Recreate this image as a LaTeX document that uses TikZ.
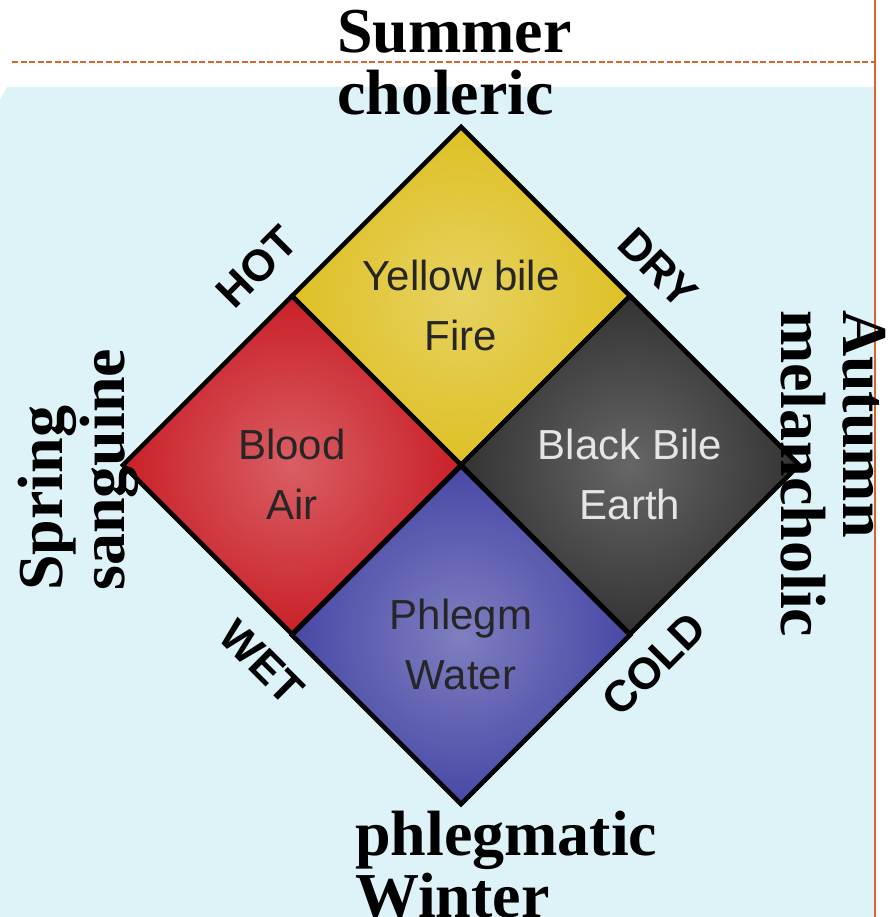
\documentclass[tikz,border=0pt]{standalone}
\usepackage{fontspec}
\setmainfont{Liberation Serif}
\newfontfamily\humsans{Liberation Sans}
\usepackage{xcolor}
\usepackage{tikz}
\usetikzlibrary{shapes.geometric,positioning}
\definecolor{sky}{HTML}{DDF3F8}
\definecolor{rust}{HTML}{D9652A}
\definecolor{bile}{HTML}{DEC024}
\definecolor{blood}{HTML}{CA2028}
\definecolor{earth}{HTML}{333333}
\definecolor{water}{HTML}{4848A6}

\begin{document}
\begin{tikzpicture}[x=1pt, y=-1pt,
  quad/.style={diamond, draw=black, line width=4.5pt, minimum width=340pt, minimum height=340pt, inner sep=0pt, align=center, text height=108pt, text depth=0pt, text=black!85, font=\humsans\fontsize{42}{60}\selectfont},
  season/.style={inner sep=0pt, align=left, font=\bfseries\fontsize{64}{62}\selectfont},
  quality/.style={inner sep=0pt, font=\humsans\bfseries\fontsize{44}{44}\selectfont}
]
  \useasboundingbox (0,0) rectangle (888,917);
  \fill[sky] (0,100) -- (7,87) -- (874,87) -- (874,917) -- (0,917) -- cycle;
  \draw[rust, line width=1.6pt, dash pattern=on 6pt off 2.5pt] (12,62) -- (875,62);
  \draw[rust, line width=2pt] (875,0) -- (875,917);

  \node (fire)  at (461,296) [quad, shade, inner color=bile!72!white, outer color=bile] {Yellow bile\\Fire};
  \node (air)   at (292,465) [quad, shade, inner color=blood!72!white, outer color=blood] {Blood\\Air};
  \node (earth) at (630,465) [quad, shade, inner color=earth!75!white, outer color=earth, text=white!90!black] {Black Bile\\Earth};
  \node (water) at (461,635) [quad, shade, inner color=water!70!white, outer color=water] {Phlegm\\Water};

  \node (hot)  at (257,267) [quality, rotate=45]  {HOT};
  \node (dry)  at (658,268) [quality, rotate=-45] {DRY};
  \node (wet)  at (262,662) [quality, rotate=-45] {WET};
  \node (cold) at (654,664) [quality, rotate=45]  {COLD};

  \node (summer) at (337,10)  [season, anchor=north west] {Summer\\choleric};
  \node (spring) at (18,591)  [season, rotate=90, anchor=north west] {Spring\\sanguine};
  \node (autumn) at (886,310) [season, rotate=-90, anchor=north west] {Autumn\\melancholic};
  \node (winter) at (355,811) [season, anchor=north west] {phlegmatic\\Winter};
\end{tikzpicture}
\end{document}
